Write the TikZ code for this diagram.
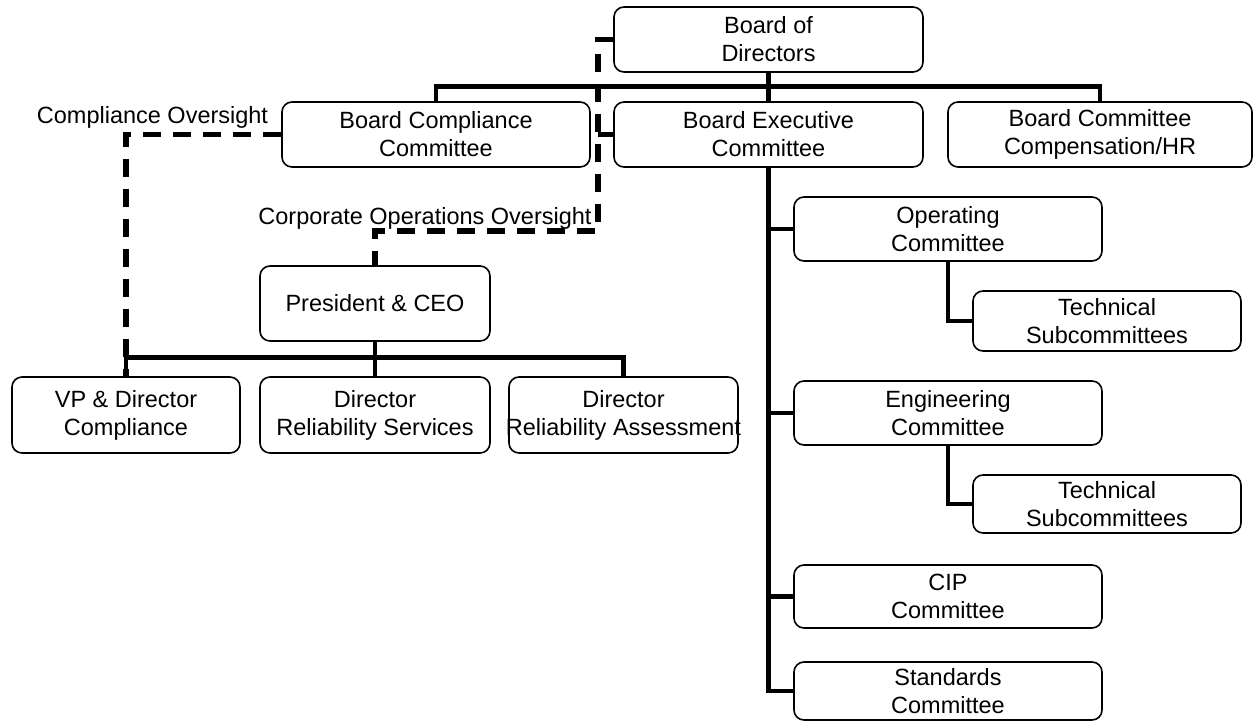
\documentclass[tikz,border=0pt]{standalone}
\usepackage{fontspec}
\setmainfont{Liberation Sans}
\begin{document}
\begin{tikzpicture}[x=1pt,y=-1pt,
  box/.style={draw, line width=1.6pt, rounded corners=10pt, align=center, inner sep=0pt,
    font=\fontsize{23.5}{28}\selectfont},
  lbl/.style={inner sep=0pt, font=\fontsize{23.5}{28}\selectfont},
  conn/.style={line width=4.8pt},
  dashline/.style={line width=5.5pt, dash pattern=on 18pt off 12pt}]
\useasboundingbox (0,0) rectangle (1256,723);
% boxes
\node[box, minimum width=309pt, minimum height=65pt] (bod) at (768.5,39.5) {Board of\\Directors};
\node[box, minimum width=308pt, minimum height=65pt] (bc) at (436,134.5) {Board Compliance\\Committee};
\node[box, minimum width=309pt, minimum height=65pt] (be) at (768.5,134.5) {Board Executive\\Committee};
\node[box, minimum width=304pt, minimum height=65pt] (hr) at (1100,134.5) {Board Committee\\Compensation/HR};
\node[box, minimum width=308pt, minimum height=64pt] (op) at (948,229) {Operating\\Committee};
\node[box, minimum width=268pt, minimum height=60pt] (t1) at (1107,321) {Technical\\Subcommittees};
\node[box, minimum width=308pt, minimum height=64pt] (eng) at (948,413) {Engineering\\Committee};
\node[box, minimum width=268pt, minimum height=58pt] (t2) at (1107,504) {Technical\\Subcommittees};
\node[box, minimum width=308pt, minimum height=63pt] (cip) at (948,596.5) {CIP\\Committee};
\node[box, minimum width=308pt, minimum height=58pt] (std) at (948,691) {Standards\\Committee};
\node[box, minimum width=230pt, minimum height=75pt] (pres) at (375,303.5) {President \& CEO};
\node[box, minimum width=228pt, minimum height=76pt] (vp) at (126,415) {VP \& Director\\Compliance};
\node[box, minimum width=230pt, minimum height=76pt] (rs) at (375,415) {Director\\Reliability Services};
\node[box, minimum width=229pt, minimum height=76pt] (ra) at (623.5,415) {Director\\\makebox[200pt][c]{Reliability Assessment}};
% labels
\node[lbl] (lco) at (152.5,117) {Compliance Oversight};
\node[lbl] (lcoo) at (425,218) {Corporate Operations Oversight};
% solid connectors
\draw[conn] (bod.south) -- (be.north);
\draw[conn] (bc.north) -- ++(0,-15) -| (hr.north);
\draw[conn] (be.south) |- (std.west);
\draw[conn] (op.west) -- (op.west -| be.south);
\draw[conn] (eng.west) -- (eng.west -| be.south);
\draw[conn] (cip.west) -- (cip.west -| be.south);
\draw[conn] (op.south) |- (t1.west);
\draw[conn] (eng.south) |- (t2.west);
\draw[conn] (pres.south) -- (rs.north);
\draw[conn] (vp.north) -- ++(0,-19) -| (ra.north);
% dashed connectors
\coordinate (d1) at (598,39.5);
\coordinate (d2) at (598,231);
\draw[dashline] (bod.west) -- (d1) -- (d2) -| (pres.north);
\draw[dashline] (be.west) -- (be.west -| d1);
\draw[dashline] (bc.west) -| (vp.north);
\end{tikzpicture}
\end{document}
